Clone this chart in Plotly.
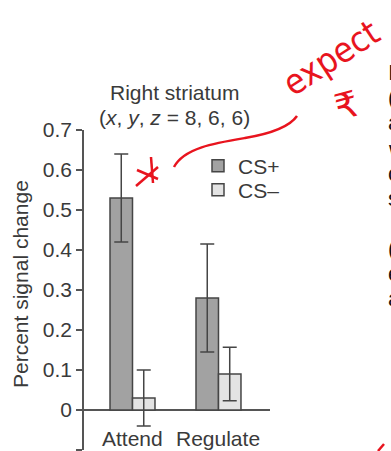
import plotly.graph_objects as go

# Mean percent signal change in the right striatum, per condition and cue type
conditions = ["Attend", "Regulate"]
cs_plus = [0.53, 0.28]
cs_plus_err = [0.11, 0.135]
cs_minus = [0.03, 0.09]
cs_minus_err = [0.07, 0.067]

y_tickvals = [-0.1, 0, 0.1, 0.2, 0.3, 0.4, 0.5, 0.6, 0.7]
y_ticktext = ["\u20130.1", "0", "0.1", "0.2", "0.3", "0.4", "0.5", "0.6", "0.7"]

W, H = 391, 451
L, R, T, B = 84, 121, 130, 1
PW, PH = W - L - R, H - T - B

FONT = "Liberation Sans, Arial, Helvetica, sans-serif"
INK = "#3a3a3a"
AXIS = "#555555"
RED = "#e8141e"
FS = 21


def px(x):
    return (x - L) / PW


def py(y):
    return (H - B - y) / PH


def P(x, y):
    return f"{px(x):.4f},{py(y):.4f}"


fig = go.Figure()
fig.add_trace(go.Bar(
    name="CS+", x=conditions, y=cs_plus, legend="legend",
    marker=dict(color="#a2a2a2", line=dict(color="#454545", width=1.5)),
    error_y=dict(type="data", array=cs_plus_err, color="#454545", thickness=1.5, width=7),
))
fig.add_trace(go.Bar(
    name="CS\u2013", x=conditions, y=cs_minus, legend="legend2",
    marker=dict(color="#e3e3e3", line=dict(color="#454545", width=1.5)),
    error_y=dict(type="data", array=cs_minus_err, color="#454545", thickness=1.5, width=7),
))

annotations = [
    dict(text="Right striatum", x=px(175), y=py(93)),
    dict(text="(<i>x</i>, <i>y</i>, <i>z</i> = 8, 6, 6)", x=px(174), y=py(117)),
    dict(text="Percent signal change", x=px(20), y=py(284), textangle=-90),
]
for a in annotations:
    a.update(xref="paper", yref="paper", showarrow=False,
             xanchor="center", yanchor="middle",
             font=dict(family=FONT, size=FS, color=INK))

# category labels sit below the zero line, inside the plotting range
for c in conditions:
    annotations.append(dict(text=c, x=c, y=-0.072, xref="x", yref="y",
                            showarrow=False, xanchor="center", yanchor="middle",
                            font=dict(family=FONT, size=FS, color=INK)))

# handwritten margin note
annotations += [
    dict(text="expect", x=px(331), y=py(58), xref="paper", yref="paper",
         showarrow=False, textangle=-33, xanchor="center", yanchor="middle",
         font=dict(family="DejaVu Sans Condensed, DejaVu Sans, sans-serif", size=35, color=RED)),
    dict(text="\u20b9", x=px(346), y=py(105), xref="paper", yref="paper",
         showarrow=False, textangle=-15, xanchor="center", yanchor="middle",
         font=dict(family="DejaVu Sans, sans-serif", size=36, color=RED)),
]

# edge of the neighbouring paragraph
for ch, yy in zip(["I", "(", "a", "w", "c", "s", "(", "e", "a"],
                  [73, 98, 123, 149, 173, 198, 248, 273, 298]):
    annotations.append(dict(text=ch, x=px(386), y=py(yy), xref="paper", yref="paper",
                            showarrow=False, xanchor="left", yanchor="middle",
                            font=dict(family="Liberation Sans, Arial, sans-serif", size=22, color="#111111")))

shapes = [
    dict(type="path", xref="paper", yref="paper",
         path=f"M{P(174,167)} C{P(184,148)} {P(215,143)} {P(245,138)} S{P(290,126)} {P(297,116)}",
         line=dict(color=RED, width=2.5)),
    dict(type="line", xref="paper", yref="paper", x0=px(136), y0=py(186), x1=px(158), y1=py(167),
         line=dict(color=RED, width=2.5)),
    dict(type="line", xref="paper", yref="paper", x0=px(137), y0=py(170), x1=px(158), y1=py(179),
         line=dict(color=RED, width=2.5)),
    dict(type="line", xref="paper", yref="paper", x0=px(151), y0=py(157), x1=px(153), y1=py(183),
         line=dict(color=RED, width=2.5)),
    dict(type="line", xref="paper", yref="paper", x0=px(378), y0=py(451), x1=px(384), y1=py(444),
         line=dict(color=RED, width=2.5)),
]

legend_style = dict(xanchor="left", yanchor="middle", bgcolor="rgba(0,0,0,0)",
                    font=dict(family=FONT, size=FS, color=INK), itemwidth=30)

fig.update_layout(
    width=W, height=H,
    margin=dict(l=L, r=R, t=T, b=B, pad=0),
    paper_bgcolor="white", plot_bgcolor="white",
    barmode="group", bargap=0.477, bargroupgap=0,
    font=dict(family=FONT, size=FS, color=INK),
    showlegend=True,
    legend=dict(x=px(198), y=py(166), **legend_style),
    legend2=dict(x=px(198), y=py(190), **legend_style),
    annotations=annotations,
    shapes=shapes,
)
fig.update_xaxes(type="category", range=[-0.564, 1.599], showticklabels=False,
                 showline=False, showgrid=False, zeroline=False, ticks="")
fig.update_yaxes(range=[-0.1, 0.7], tickvals=y_tickvals, ticktext=y_ticktext,
                 showline=True, linecolor=AXIS, linewidth=1.5,
                 ticks="outside", ticklen=6, tickwidth=1.5, tickcolor=AXIS,
                 showgrid=False, zeroline=True, zerolinecolor=AXIS, zerolinewidth=1.5,
                 tickfont=dict(family=FONT, size=FS, color=INK))

fig.write_html("out.html")
